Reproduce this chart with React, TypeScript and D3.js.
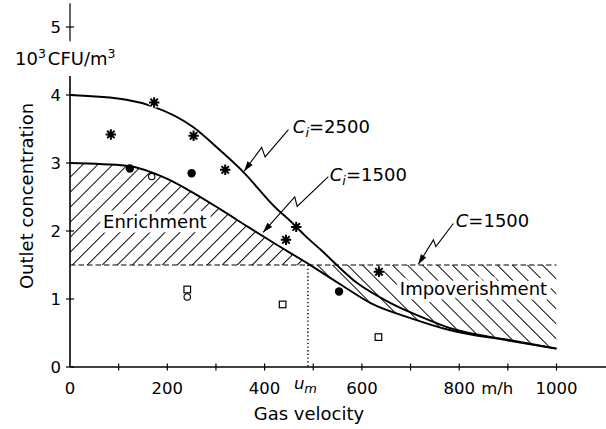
import React from 'react';
import * as d3 from 'd3';

const W = 606;
const H = 429;

// Curves (gas velocity m/h, outlet conc. 10^3 CFU/m^3)
const curve2500X = [0, 116, 171, 253, 308, 356, 420, 454, 482, 516, 591, 659, 721, 782, 900, 1000];
const curve2500Y = [4.0, 3.93, 3.83, 3.53, 3.19, 2.87, 2.36, 2.14, 1.94, 1.72, 1.23, 0.94, 0.74, 0.57, 0.4, 0.27];
const curve1500X = [0, 116, 199, 256, 311, 366, 420, 489, 557, 618, 700, 782, 900, 1000];
const curve1500Y = [3.0, 2.96, 2.77, 2.55, 2.31, 2.06, 1.82, 1.52, 1.21, 0.94, 0.72, 0.54, 0.39, 0.27];

// Measured points
const starX = [84, 173, 254, 319, 444, 465, 635];
const starY = [3.42, 3.89, 3.4, 2.9, 1.87, 2.06, 1.4];
const dotX = [123, 250, 553];
const dotY = [2.92, 2.85, 1.11];
const ringX = [168, 241];
const ringY = [2.8, 1.03];
const squareX = [241, 437, 634];
const squareY = [1.14, 0.92, 0.44];

const threshold = 1500 / 1000;
const uM = 489;

const xTickValues = [100, 200, 300, 400, 500, 600, 700, 800, 900, 1000];
const xTickLabels = ['0', '200', '400', '600', '800', '1000'];
const xTickLabelValues = [0, 200, 400, 600, 800, 1000];
const yTickValues = [0, 1, 2, 3, 4, 5];

// Annotation leaders (data coords)
const leader2500 = [[449, 3.49], [401, 3.09], [394, 3.23], [358, 2.88]];
const leader1500 = [[531, 2.8], [467, 2.36], [462, 2.5], [397, 1.98]];
const leaderC = [[788, 2.11], [752, 1.77], [747, 1.87], [716, 1.51]];

const FONT = 'DejaVu Sans';

export default function App() {
  const x = d3.scaleLinear().domain([0, 1000]).range([70, 556.5]);
  const y = d3.scaleLinear().domain([0, 5]).range([367, 27]);

  const c2500 = curve2500X.map((v, i) => [v, curve2500Y[i]] as [number, number]);
  const c1500 = curve1500X.map((v, i) => [v, curve1500Y[i]] as [number, number]);

  const line = d3
    .line<[number, number]>()
    .x((d) => x(d[0]))
    .y((d) => y(d[1]))
    .curve(d3.curveMonotoneX);

  const area = d3
    .area<[number, number]>()
    .x((d) => x(d[0]))
    .y0(y(threshold))
    .y1((d) => y(d[1]))
    .curve(d3.curveMonotoneX);

  const leaderLine = d3
    .line<number[]>()
    .x((d) => x(d[0]))
    .y((d) => y(d[1]));

  const arrowHead = (pts: number[][]) => {
    const a = pts[pts.length - 2];
    const b = pts[pts.length - 1];
    const ax = x(a[0]), ay = y(a[1]);
    const bx = x(b[0]), by = y(b[1]);
    const ang = Math.atan2(by - ay, bx - ax);
    const L = 10, Wd = 3.2;
    const p1 = [bx - L * Math.cos(ang) + Wd * Math.sin(ang), by - L * Math.sin(ang) - Wd * Math.cos(ang)];
    const p2 = [bx - L * Math.cos(ang) - Wd * Math.sin(ang), by - L * Math.sin(ang) + Wd * Math.cos(ang)];
    return `M${bx},${by}L${p1[0]},${p1[1]}L${p2[0]},${p2[1]}Z`;
  };

  const starPath = (cx: number, cy: number, r: number) => {
    let p = '';
    for (let k = 0; k < 4; k++) {
      const a = (k * Math.PI) / 4;
      p += `M${cx - r * Math.cos(a)},${cy - r * Math.sin(a)}L${cx + r * Math.cos(a)},${cy + r * Math.sin(a)}`;
    }
    return p;
  };

  const textStyle = { fontFamily: FONT, fill: '#000' } as const;

  return (
    <svg
      width={W}
      height={H}
      viewBox={`0 0 ${W} ${H}`}
      style={{ position: 'absolute', left: 0, top: 0, background: '#fff' }}
    >
      <defs>
        <pattern id="hatchF" patternUnits="userSpaceOnUse" width={10.6} height={10.6} patternTransform="rotate(45)">
          <line x1={5.3} y1={0} x2={5.3} y2={10.6} stroke="#000" strokeWidth={1} />
        </pattern>
        <pattern id="hatchB" patternUnits="userSpaceOnUse" width={10.6} height={10.6} patternTransform="rotate(-45)">
          <line x1={5.3} y1={0} x2={5.3} y2={10.6} stroke="#000" strokeWidth={1} />
        </pattern>
        <clipPath id="areaClip">
          <path d={area(c1500) || ''} />
        </clipPath>
      </defs>
      <rect x={0} y={0} width={W} height={H} fill="#fff" />

      {/* Hatched regions */}
      <g clipPath="url(#areaClip)">
        <rect x={x(0)} y={y(5)} width={x(1000) - x(0)} height={y(threshold) - y(5)} fill="url(#hatchF)" />
        <rect x={x(0)} y={y(threshold)} width={x(1000) - x(0)} height={y(0) - y(threshold)} fill="url(#hatchB)" />
      </g>

      {/* Threshold dashed line */}
      <line x1={x(0)} x2={x(1000)} y1={y(threshold)} y2={y(threshold)} stroke="#000" strokeWidth={1.1} strokeDasharray="5.5,3" />
      {/* u_m dotted line */}
      <line x1={x(uM)} x2={x(uM)} y1={y(threshold)} y2={y(0)} stroke="#000" strokeWidth={1.4} strokeDasharray="1.3,2.4" />

      {/* Curves */}
      <path d={line(c2500) || ''} fill="none" stroke="#000" strokeWidth={1.9} />
      <path d={line(c1500) || ''} fill="none" stroke="#000" strokeWidth={1.9} />

      {/* Region labels with white halo */}
      <text x={x(68)} y={y(2.05)} fontSize={18} style={textStyle} stroke="#fff" strokeWidth={9} paintOrder="stroke" strokeLinejoin="round">
        Enrichment
      </text>
      <text x={x(678)} y={y(1.06)} fontSize={18} style={textStyle} stroke="#fff" strokeWidth={9} paintOrder="stroke" strokeLinejoin="round">
        Impoverishment
      </text>

      {/* Axes */}
      <line x1={x(0)} x2={W} y1={y(0)} y2={y(0)} stroke="#000" strokeWidth={1.6} />
      <line x1={x(0)} x2={x(0)} y1={y(0)} y2={y(4.28)} stroke="#000" strokeWidth={1.6} />
      <line x1={x(0)} x2={x(0)} y1={y(4.79)} y2={y(5.35)} stroke="#000" strokeWidth={1.2} />
      {xTickValues.map((v) => (
        <line key={'xt' + v} x1={x(v)} x2={x(v)} y1={y(0) - 3.5} y2={y(0) + 3.5} stroke="#000" strokeWidth={1.2} />
      ))}
      {yTickValues.map((v) => (
        <line key={'yt' + v} x1={x(0) - 4} x2={x(0) + 4} y1={y(v)} y2={y(v)} stroke="#000" strokeWidth={1.2} />
      ))}
      {xTickLabelValues.map((v, i) => (
        <text key={'xl' + v} x={x(v)} y={394} fontSize={16.5} textAnchor="middle" style={textStyle}>
          {xTickLabels[i]}
        </text>
      ))}
      <text x={x(800) + 22} y={394} fontSize={16.5} style={textStyle}>m/h</text>
      <text x={x(uM) - 14} y={389} fontSize={16.5} style={textStyle}>
        <tspan fontStyle="italic">u</tspan>
        <tspan fontStyle="italic" fontSize={13} dy={4}>m</tspan>
      </text>
      {yTickValues.map((v) => (
        <text key={'yl' + v} x={x(0) - 9} y={y(v) + 6} fontSize={16.5} textAnchor="end" style={textStyle}>
          {v}
        </text>
      ))}
      <text x={15} y={65} fontSize={18} style={textStyle}>
        10<tspan fontSize={12.5} dy={-7}>3</tspan>
        <tspan dy={7} dx={2}>CFU/m</tspan>
        <tspan fontSize={12.5} dy={-7}>3</tspan>
      </text>
      <text transform="translate(33,196) rotate(-90)" fontSize={18} textAnchor="middle" style={textStyle}>
        Outlet concentration
      </text>
      <text x={309} y={420} fontSize={18} textAnchor="middle" style={textStyle}>
        Gas velocity
      </text>

      {/* Leader annotations */}
      {[leader2500, leader1500, leaderC].map((pts, i) => (
        <g key={'ld' + i}>
          <path d={leaderLine(pts) || ''} fill="none" stroke="#000" strokeWidth={1.1} />
          <path d={arrowHead(pts)} fill="#000" />
        </g>
      ))}
      <text x={x(458)} y={y(3.44)} fontSize={18} style={textStyle}>
        <tspan fontStyle="italic">C</tspan>
        <tspan fontStyle="italic" fontSize={13} dy={4}>i</tspan>
        <tspan dy={-4}>=2500</tspan>
      </text>
      <text x={x(534)} y={y(2.73)} fontSize={18} style={textStyle}>
        <tspan fontStyle="italic">C</tspan>
        <tspan fontStyle="italic" fontSize={13} dy={4}>i</tspan>
        <tspan dy={-4}>=1500</tspan>
      </text>
      <text x={x(793)} y={y(2.06)} fontSize={18} style={textStyle}>
        <tspan fontStyle="italic">C</tspan>
        <tspan>=1500</tspan>
      </text>

      {/* Markers */}
      {starX.map((v, i) => (
        <g key={'s' + i}>
          <path d={starPath(x(v), y(starY[i]), 5.2)} stroke="#fff" strokeWidth={5} />
          <path d={starPath(x(v), y(starY[i]), 5.2)} stroke="#000" strokeWidth={2} />
          <circle cx={x(v)} cy={y(starY[i])} r={2.4} fill="#000" />
        </g>
      ))}
      {dotX.map((v, i) => (
        <circle key={'d' + i} cx={x(v)} cy={y(dotY[i])} r={4.2} fill="#000" />
      ))}
      {ringX.map((v, i) => (
        <circle key={'r' + i} cx={x(v)} cy={y(ringY[i])} r={3.2} fill="#fff" stroke="#000" strokeWidth={1.1} />
      ))}
      {squareX.map((v, i) => (
        <rect key={'q' + i} x={x(v) - 3.3} y={y(squareY[i]) - 3.3} width={6.6} height={6.6} fill="#fff" stroke="#000" strokeWidth={1.2} />
      ))}
    </svg>
  );
}
